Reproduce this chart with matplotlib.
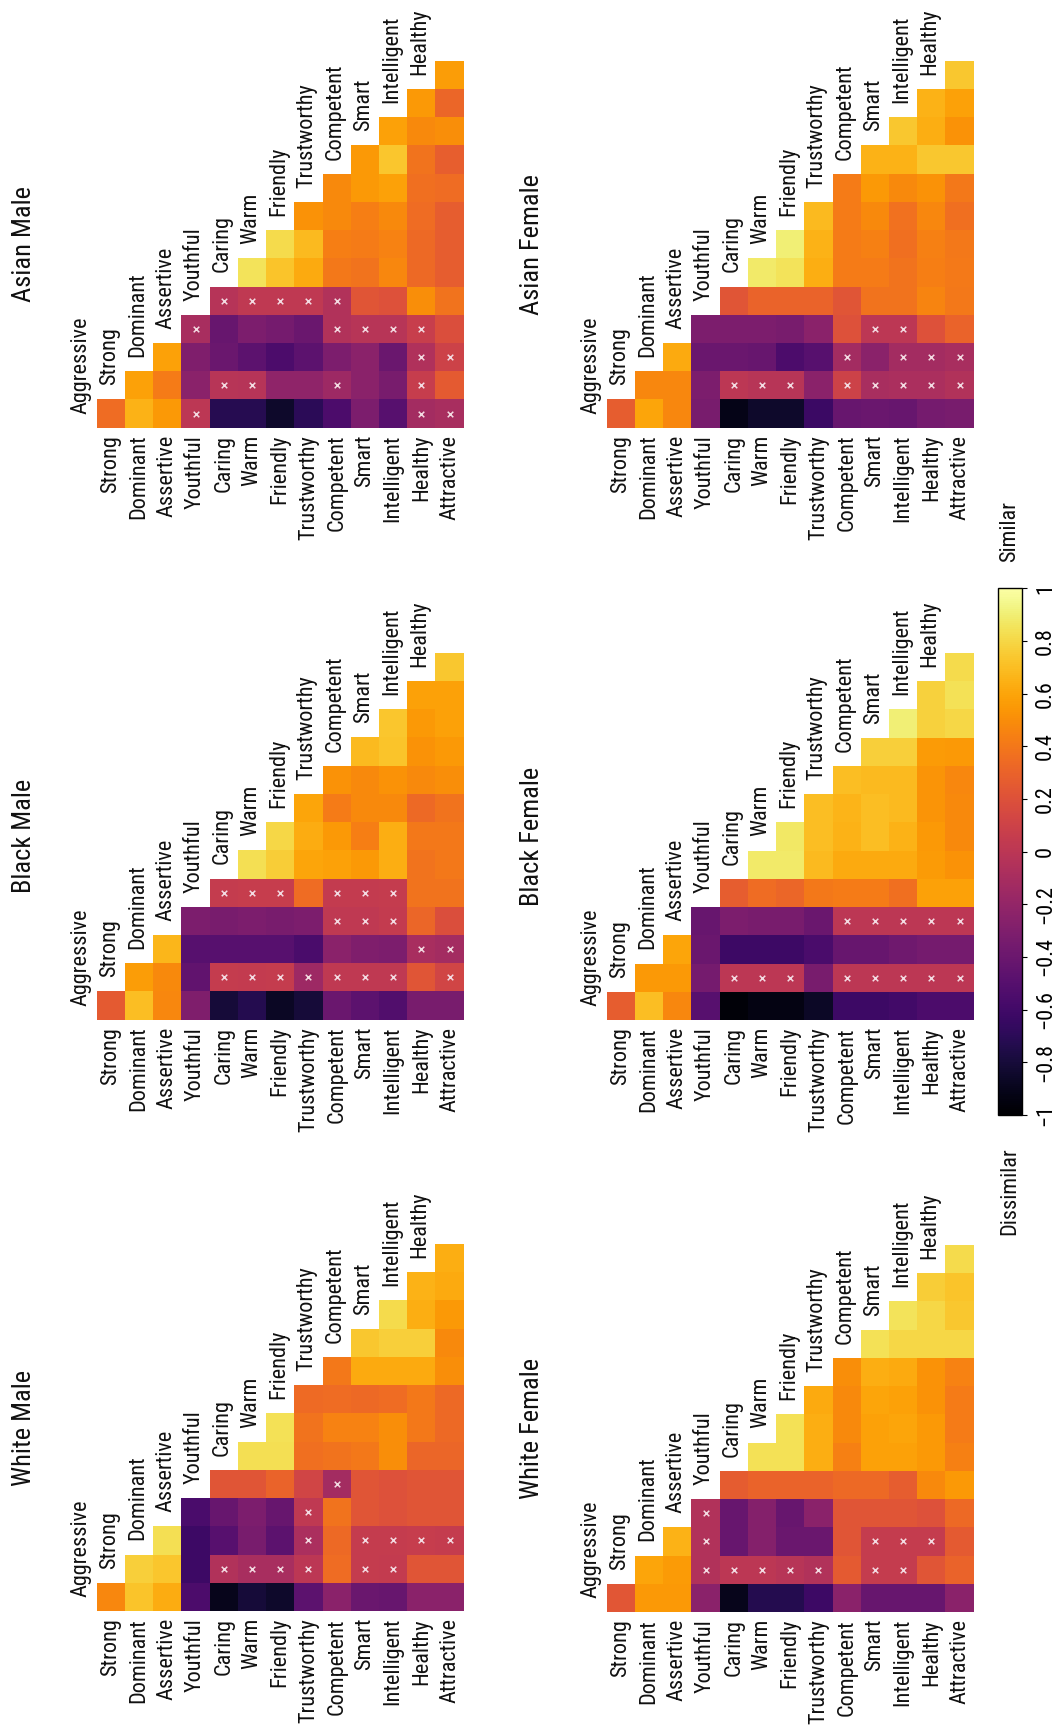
import numpy as np
import matplotlib
matplotlib.use("Agg")
import matplotlib.pyplot as plt
from matplotlib import font_manager
from matplotlib.colors import Normalize
from matplotlib.cm import ScalarMappable

# trait names: rows of each matrix, columns of each matrix
rows = ["Strong", "Dominant", "Assertive", "Youthful", "Caring", "Warm", "Friendly",
        "Trustworthy", "Competent", "Smart", "Intelligent", "Healthy", "Attractive"]
cols = ["Aggressive", "Strong", "Dominant", "Assertive", "Youthful", "Caring", "Warm",
        "Friendly", "Trustworthy", "Competent", "Smart", "Intelligent", "Healthy"]

# lower-triangle similarity values, one list per row (Strong .. Attractive)
asian_male = [
    [0.35],
    [0.65, 0.58],
    [0.55, 0.42, 0.58],
    [0.0, -0.25, -0.3, -0.1],
    [-0.72, -0.02, -0.4, -0.42, -0.03],
    [-0.72, -0.03, -0.47, -0.32, 0.02, 0.85],
    [-0.85, -0.22, -0.55, -0.35, 0.02, 0.72, 0.82],
    [-0.7, -0.22, -0.47, -0.4, 0.02, 0.62, 0.68, 0.52],
    [-0.55, -0.15, -0.32, -0.05, -0.05, 0.4, 0.43, 0.48, 0.48],
    [-0.32, -0.25, -0.25, -0.02, 0.22, 0.38, 0.42, 0.43, 0.55, 0.55],
    [-0.5, -0.33, -0.4, -0.02, 0.2, 0.47, 0.45, 0.48, 0.58, 0.73, 0.58],
    [-0.12, 0.06, -0.06, 0.07, 0.5, 0.33, 0.33, 0.35, 0.36, 0.38, 0.48, 0.55],
    [-0.1, 0.25, 0.1, 0.18, 0.38, 0.27, 0.27, 0.27, 0.35, 0.28, 0.5, 0.32, 0.57],
]
black_male = [
    [0.25],
    [0.7, 0.57],
    [0.47, 0.48, 0.67],
    [-0.3, -0.45, -0.5, -0.32],
    [-0.8, 0.05, -0.5, -0.33, 0.05],
    [-0.73, 0.04, -0.5, -0.32, 0.06, 0.83],
    [-0.87, 0.05, -0.5, -0.33, 0.06, 0.76, 0.8],
    [-0.8, -0.15, -0.56, -0.32, 0.35, 0.6, 0.63, 0.6],
    [-0.4, 0.02, -0.25, 0.02, 0.04, 0.58, 0.55, 0.42, 0.52],
    [-0.47, 0.02, -0.3, 0.02, 0.04, 0.55, 0.43, 0.48, 0.48, 0.68],
    [-0.53, 0.02, -0.32, 0.04, 0.05, 0.64, 0.64, 0.48, 0.52, 0.72, 0.73],
    [-0.33, 0.22, -0.1, 0.32, 0.38, 0.38, 0.4, 0.33, 0.48, 0.52, 0.55, 0.58],
    [-0.33, 0.12, -0.12, 0.18, 0.38, 0.4, 0.4, 0.38, 0.5, 0.55, 0.58, 0.58, 0.74],
]
white_male = [
    [0.47],
    [0.72, 0.77],
    [0.63, 0.73, 0.83],
    [-0.55, -0.62, -0.62, -0.56],
    [-0.9, -0.05, -0.5, -0.42, 0.22],
    [-0.8, -0.1, -0.33, -0.32, 0.22, 0.83],
    [-0.85, -0.1, -0.47, -0.42, 0.3, 0.83, 0.84],
    [-0.47, 0.0, -0.08, 0.02, 0.12, 0.36, 0.38, 0.34],
    [-0.25, 0.35, 0.33, 0.38, -0.12, 0.38, 0.45, 0.35, 0.4],
    [-0.4, 0.05, 0.05, 0.22, 0.22, 0.4, 0.45, 0.33, 0.62, 0.74],
    [-0.42, 0.04, 0.05, 0.2, 0.2, 0.5, 0.5, 0.35, 0.62, 0.77, 0.82],
    [-0.25, 0.22, 0.06, 0.22, 0.22, 0.32, 0.4, 0.4, 0.62, 0.77, 0.64, 0.65],
    [-0.25, 0.22, 0.05, 0.22, 0.22, 0.32, 0.33, 0.33, 0.5, 0.48, 0.55, 0.62, 0.64],
]
asian_female = [
    [0.27],
    [0.6, 0.47],
    [0.47, 0.47, 0.62],
    [-0.33, -0.32, -0.4, -0.32],
    [-0.92, 0.0, -0.4, -0.32, 0.22],
    [-0.85, -0.02, -0.42, -0.32, 0.3, 0.88],
    [-0.85, -0.02, -0.55, -0.33, 0.3, 0.85, 0.9],
    [-0.63, -0.25, -0.5, -0.25, 0.3, 0.64, 0.65, 0.68],
    [-0.42, 0.1, -0.12, 0.2, 0.22, 0.42, 0.42, 0.42, 0.42],
    [-0.4, -0.1, -0.25, 0.0, 0.38, 0.42, 0.44, 0.48, 0.55, 0.65],
    [-0.42, -0.08, -0.12, 0.0, 0.38, 0.38, 0.36, 0.37, 0.48, 0.65, 0.74],
    [-0.35, -0.08, -0.12, 0.2, 0.46, 0.43, 0.44, 0.47, 0.52, 0.74, 0.64, 0.65],
    [-0.33, -0.05, -0.1, 0.3, 0.4, 0.41, 0.4, 0.36, 0.4, 0.74, 0.52, 0.58, 0.74],
]
black_female = [
    [0.27],
    [0.7, 0.55],
    [0.47, 0.55, 0.6],
    [-0.5, -0.35, -0.4, -0.42],
    [-0.97, 0.0, -0.62, -0.32, 0.27],
    [-0.93, 0.0, -0.62, -0.33, 0.35, 0.88],
    [-0.93, 0.0, -0.62, -0.33, 0.32, 0.88, 0.87],
    [-0.86, -0.33, -0.56, -0.4, 0.4, 0.68, 0.7, 0.7],
    [-0.62, 0.0, -0.42, 0.0, 0.42, 0.62, 0.65, 0.66, 0.7],
    [-0.62, 0.0, -0.42, 0.0, 0.42, 0.62, 0.7, 0.7, 0.68, 0.77],
    [-0.6, 0.0, -0.38, 0.0, 0.36, 0.62, 0.65, 0.68, 0.68, 0.77, 0.9],
    [-0.55, 0.0, -0.35, 0.0, 0.58, 0.56, 0.55, 0.53, 0.53, 0.56, 0.78, 0.78],
    [-0.55, 0.0, -0.35, 0.0, 0.58, 0.52, 0.48, 0.48, 0.47, 0.55, 0.8, 0.84, 0.82],
]
white_female = [
    [0.23],
    [0.55, 0.6],
    [0.55, 0.56, 0.65],
    [-0.25, -0.05, -0.05, -0.05],
    [-0.9, 0.0, -0.42, -0.42, 0.26],
    [-0.73, 0.0, -0.28, -0.28, 0.3, 0.84],
    [-0.73, -0.02, -0.4, -0.42, 0.3, 0.84, 0.84],
    [-0.62, -0.05, -0.4, -0.25, 0.3, 0.64, 0.64, 0.62],
    [-0.25, 0.25, 0.22, 0.22, 0.33, 0.44, 0.48, 0.48, 0.5],
    [-0.42, 0.05, 0.05, 0.22, 0.33, 0.58, 0.58, 0.6, 0.64, 0.84],
    [-0.42, 0.05, 0.05, 0.22, 0.27, 0.58, 0.6, 0.58, 0.62, 0.8, 0.85],
    [-0.42, 0.22, 0.05, 0.2, 0.48, 0.55, 0.55, 0.52, 0.52, 0.8, 0.8, 0.76],
    [-0.25, 0.3, 0.25, 0.33, 0.55, 0.44, 0.42, 0.42, 0.45, 0.8, 0.74, 0.72, 0.82],
]

# non-significant cells, (row, col)
asian_male_ns = [(3, 0), (3, 3), (4, 1), (4, 4), (5, 1), (5, 4), (6, 4), (7, 4),
                 (8, 1), (8, 3), (8, 4), (9, 3), (10, 3),
                 (11, 0), (11, 1), (11, 2), (11, 3), (12, 0), (12, 2)]
black_male_ns = [(4, 1), (4, 4), (5, 1), (5, 4), (6, 1), (6, 4), (7, 1),
                 (8, 1), (8, 3), (8, 4), (9, 1), (9, 3), (9, 4), (10, 1), (10, 3), (10, 4),
                 (11, 2), (12, 1), (12, 2)]
white_male_ns = [(4, 1), (5, 1), (6, 1), (7, 1), (7, 2), (7, 3), (8, 4),
                 (9, 1), (9, 2), (10, 1), (10, 2), (11, 2), (12, 2)]
asian_female_ns = [(4, 1), (5, 1), (6, 1), (8, 1), (8, 2), (9, 1), (9, 3),
                   (10, 1), (10, 2), (10, 3), (11, 1), (11, 2), (12, 1), (12, 2)]
black_female_ns = [(4, 1), (5, 1), (6, 1), (8, 1), (8, 3), (9, 1), (9, 3),
                   (10, 1), (10, 3), (11, 1), (11, 3), (12, 1), (12, 3)]
white_female_ns = [(3, 1), (3, 2), (3, 3), (4, 1), (5, 1), (6, 1), (7, 1),
                   (9, 1), (9, 2), (10, 1), (10, 2), (11, 2)]

cbar_ticks = [-1, -0.8, -0.6, -0.4, -0.2, 0, 0.2, 0.4, 0.6, 0.8, 1]
cbar_labels = ["\u22121", "\u22120.8", "\u22120.6", "\u22120.4", "\u22120.2", "0",
               "0.2", "0.4", "0.6", "0.8", "1"]

# condensed font if one is installed, else plain Liberation Sans a bit smaller
names = {f.name for f in font_manager.fontManager.ttflist}
FONT, LABEL_FS, TITLE_FS = "Liberation Sans", 15, 17.6
for cand in ["Liberation Sans Narrow", "Roboto Condensed", "Open Sans Condensed"]:
    if cand in names:
        FONT, LABEL_FS, TITLE_FS = cand, 16, 19
        break
plt.rcParams["font.family"] = [FONT, "DejaVu Sans"]

W, H = 1058, 1725
fig = plt.figure(figsize=(W / 100, H / 100), dpi=100)
fig.patch.set_facecolor("white")


def px_axes(left, top, width, height):
    return fig.add_axes([left / W, 1 - (top + height) / H, width / W, height / H])


GRID = 367  # px, 13 cells
n = len(rows)

# (title, values, ns cells, grid left px, grid top px, title x px)
panels = [
    ("Asian Male", asian_male, asian_male_ns, 96.7, 60.7, 24),
    ("Black Male", black_male, black_male_ns, 96.7, 652.7, 24),
    ("White Male", white_male, white_male_ns, 96.7, 1244, 24),
    ("Asian Female", asian_female, asian_female_ns, 606.7, 60.7, 532),
    ("Black Female", black_female, black_female_ns, 606.7, 653, 532),
    ("White Female", white_female, white_female_ns, 606.7, 1245, 532),
]

for title, vals, ns, gx, gy, tx in panels:
    ax = px_axes(gx, gy, GRID, GRID)
    C = np.full((n, n), np.nan)
    for i, r in enumerate(vals):
        for j, v in enumerate(r):
            C[j, i] = v
    ax.pcolormesh(np.arange(n + 1), np.arange(n + 1), np.ma.masked_invalid(C),
                  cmap="inferno", vmin=-1, vmax=1, shading="flat",
                  edgecolors="none", antialiased=False)
    xs = [i + 0.5 for i, j in ns]
    ys = [j + 0.5 for i, j in ns]
    ax.scatter(xs, ys, marker="x", s=16, c="#f3dbe2", linewidths=1.1, zorder=3)
    ax.set_xlim(0, n)
    ax.set_ylim(0, n)
    ax.axis("off")

    for i, name in enumerate(rows):
        ax.text(i + 0.5, -0.25, name, rotation=90, ha="center", va="top",
                fontsize=LABEL_FS, color="#111111", clip_on=False)
    for j, name in enumerate(cols):
        ax.text(j - 0.55, j + 0.5, name, rotation=90, ha="center", va="bottom",
                fontsize=LABEL_FS, color="#111111", clip_on=False)

    fig.text(tx / W, 1 - (gy + GRID / 2) / H, title, rotation=90,
             ha="center", va="center", fontsize=TITLE_FS, color="#111111")

# colorbar
cax = px_axes(998.3, 588.3, 23.4, 526.7)
cb = fig.colorbar(ScalarMappable(norm=Normalize(-1, 1), cmap="inferno"), cax=cax)
cb.set_ticks(cbar_ticks)
cb.set_ticklabels(cbar_labels)
cb.outline.set_linewidth(1.0)
cax.tick_params(length=3.6, width=0.8, pad=6, labelsize=LABEL_FS)
for t in cax.get_yticklabels():
    t.set_rotation(90)
    t.set_va("center")
    t.set_ha("left")

fig.text(1010 / W, 1 - 531 / H, "Similar", rotation=90, ha="center", va="center",
         fontsize=LABEL_FS, color="#111111")
fig.text(1010 / W, 1 - 1191 / H, "Dissimilar", rotation=90, ha="center", va="center",
         fontsize=LABEL_FS, color="#111111")

fig.savefig("out.png", dpi=100, facecolor="white")
